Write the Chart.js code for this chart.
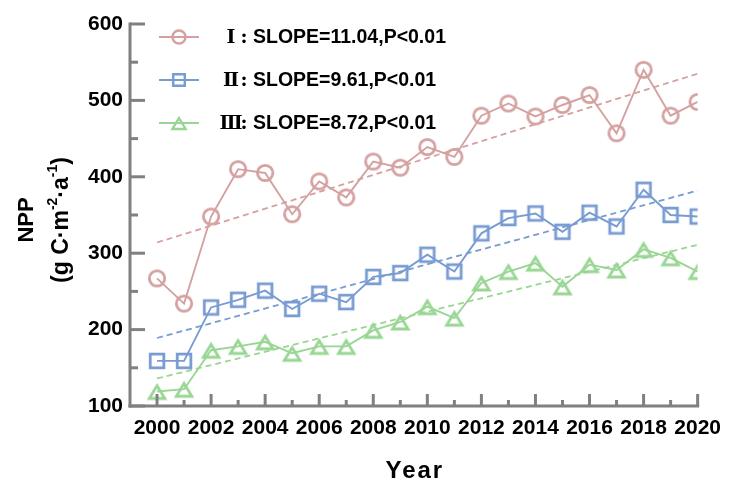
<!DOCTYPE html>
<html>
<head>
<meta charset="utf-8">
<script src="https://cdn.jsdelivr.net/npm/chart.js@4/dist/chart.umd.min.js"></script>
<style>
  html, body { margin: 0; padding: 0; background: #ffffff; }
  #wrap { width: 731px; height: 484px; }
</style>
</head>
<body>
<div id="wrap"><canvas id="c" width="731" height="484"></canvas></div>
<script>
// Annual NPP (g C·m-2·a-1) for three zones, 2000–2020
const years = [2000, 2001, 2002, 2003, 2004, 2005, 2006, 2007, 2008, 2009, 2010,
               2011, 2012, 2013, 2014, 2015, 2016, 2017, 2018, 2019, 2020];
const nppI   = [267, 234, 348, 410, 405, 351, 394, 373, 420, 412, 439,
                426, 480, 496, 479, 494, 507, 457, 540, 480, 498];
const nppII  = [159, 159, 229, 239, 251, 227, 247, 236, 269, 274, 298,
                276, 326, 346, 352, 328, 353, 335, 383, 350, 348];
const nppIII = [119, 122, 173, 178, 184, 169, 178, 178, 199, 210, 230,
                215, 261, 276, 287, 256, 285, 278, 305, 294, 276];

// Linear trend: fitted values at the first and last year
const trendYears = [2000, 2020];
const trendI   = [314, 535];
const trendII  = [189, 382];
const trendIII = [136, 311];

// Legend text
const zoneNames = ['Ⅰ', 'Ⅱ', 'Ⅲ'];
const slopes    = ['11.04', '9.61', '8.72'];
const pTexts    = ['P<0.01', 'P<0.01', 'P<0.01'];

const colors = ['rgb(213,160,160)', 'rgb(120,155,210)', 'rgb(153,214,148)'];
const shapes = ['circle', 'square', 'triangle'];
const SANS = '"Liberation Sans", Arial, sans-serif';

// Hollow marker drawn onto a small canvas so it is centred on the point
function makeMarker(shape, color, s) {
  const size = 26;
  const c = document.createElement('canvas');
  c.width = size; c.height = size;
  const g = c.getContext('2d');
  const m = size / 2;
  g.strokeStyle = color;
  g.lineWidth = 2.8 * s;
  g.lineJoin = 'miter';
  g.beginPath();
  if (shape === 'circle') {
    g.arc(m, m, 7.7 * s, 0, Math.PI * 2);
  } else if (shape === 'square') {
    const h = 6.8 * s;
    g.rect(m - h, m - h, 2 * h, 2 * h);
  } else {
    const w = 7.8 * s, h = 6.4 * s;
    g.moveTo(m, m - h + 0.6 * s);
    g.lineTo(m + w, m + h + 0.6 * s);
    g.lineTo(m - w, m + h + 0.6 * s);
    g.closePath();
  }
  g.stroke();
  return c;
}
const plotMarkers = shapes.map((sh, i) => makeMarker(sh, colors[i], 1));
const legendMarkers = shapes.map((sh, i) => makeMarker(sh, colors[i], 0.85));

function toXY(xs, ys) { return ys.map((v, i) => ({ x: xs[i], y: v })); }

function seriesDataset(values, i) {
  return {
    data: toXY(years, values),
    borderColor: colors[i],
    borderWidth: 1.9,
    pointStyle: plotMarkers[i],
    pointRadius: 10,
    pointBackgroundColor: 'rgba(0,0,0,0)',
    pointBorderColor: colors[i],
    tension: 0,
    order: 1
  };
}
function trendDataset(values, i) {
  return {
    data: toXY(trendYears, values),
    borderColor: colors[i],
    borderWidth: 1.8,
    borderDash: [6, 4],
    pointRadius: 0,
    tension: 0,
    order: 2
  };
}

// Axis lines with inward ticks
const axesPlugin = {
  id: 'axesInward',
  afterDatasetsDraw(chart) {
    const { ctx, chartArea: a, scales: { x, y } } = chart;
    ctx.save();
    ctx.strokeStyle = '#808080';
    ctx.lineWidth = 3;
    ctx.lineCap = 'butt';
    const line = (x1, y1, x2, y2) => { ctx.beginPath(); ctx.moveTo(x1, y1); ctx.lineTo(x2, y2); ctx.stroke(); };
    for (let v = y.min; v <= y.max; v += 50) {
      const py = y.getPixelForValue(v);
      line(a.left, py, a.left + (v % 100 === 0 ? 15 : 8), py);
    }
    for (let yr = years[0]; yr <= x.max; yr++) {
      const px = x.getPixelForValue(yr);
      line(px, a.bottom, px, a.bottom - (yr % 2 === 0 ? 12 : 6));
    }
    ctx.lineCap = 'square';
    line(a.left, a.top, a.left, a.bottom);
    line(a.left, a.bottom, a.right, a.bottom);
    ctx.restore();
  }
};

// Legend, axis titles
const textPlugin = {
  id: 'texts',
  afterDraw(chart) {
    const { ctx, chartArea: a } = chart;
    ctx.save();
    // legend
    const rowY = [a.top + 13, a.top + 56, a.top + 99];
    for (let i = 0; i < 3; i++) {
      const yy = rowY[i];
      const lx = a.left + 29;
      ctx.strokeStyle = colors[i];
      ctx.lineWidth = 1.9;
      ctx.beginPath(); ctx.moveTo(lx, yy); ctx.lineTo(lx + 40, yy); ctx.stroke();
      const mk = legendMarkers[i];
      ctx.drawImage(mk, lx + 20 - mk.width / 2, yy - mk.height / 2);
      ctx.fillStyle = '#000';
      ctx.textBaseline = 'middle';
      ctx.textAlign = 'center';
      ctx.font = 'bold 19px "DejaVu Serif", "Liberation Serif", serif';
      ctx.fillText(zoneNames[i], a.left + 101, yy + 1);
      ctx.fillText(':', a.left + 114, yy + 1);
      ctx.textAlign = 'left';
      ctx.font = 'bold 19.5px ' + SANS;
      ctx.fillText('SLOPE=' + slopes[i] + ',' + pTexts[i], a.left + 123, yy + 1);
    }

    // x title
    ctx.fillStyle = '#000';
    ctx.textAlign = 'center';
    ctx.textBaseline = 'middle';
    ctx.font = 'bold 24px ' + SANS;
    if ('letterSpacing' in ctx) ctx.letterSpacing = '2px';
    ctx.fillText('Year', (a.left + a.right) / 2 + 1, 471);
    if ('letterSpacing' in ctx) ctx.letterSpacing = '0px';

    // y title (rotated)
    const cy = (a.top + a.bottom) / 2 + 5;
    ctx.save();
    ctx.translate(27, cy);
    ctx.rotate(-Math.PI / 2);
    ctx.font = 'bold 22px ' + SANS;
    ctx.fillText('NPP', 0, 0);
    ctx.restore();

    const parts = [
      { t: '(g C·m', size: 23, dy: 0 },
      { t: '-2', size: 14, dy: -9 },
      { t: '·a', size: 23, dy: 0 },
      { t: '-1', size: 14, dy: -9 },
      { t: ')', size: 23, dy: 0 }
    ];
    ctx.save();
    ctx.translate(62, cy);
    ctx.rotate(-Math.PI / 2);
    ctx.textAlign = 'left';
    let total = 0;
    parts.forEach(p => { ctx.font = 'bold ' + p.size + 'px ' + SANS; p.w = ctx.measureText(p.t).width; total += p.w; });
    let px = -total / 2;
    parts.forEach(p => { ctx.font = 'bold ' + p.size + 'px ' + SANS; ctx.fillText(p.t, px, p.dy); px += p.w; });
    ctx.restore();
    ctx.restore();
  }
};

new Chart(document.getElementById('c'), {
  type: 'line',
  data: {
    datasets: [
      trendDataset(trendI, 0), trendDataset(trendII, 1), trendDataset(trendIII, 2),
      seriesDataset(nppI, 0), seriesDataset(nppII, 1), seriesDataset(nppIII, 2)
    ]
  },
  options: {
    responsive: false,
    devicePixelRatio: 1,
    animation: false,
    events: [],
    layout: { padding: { top: 24, right: 25, left: 0, bottom: 0 } },
    plugins: { legend: { display: false }, tooltip: { enabled: false } },
    scales: {
      x: {
        type: 'linear',
        min: 1999,
        max: 2020,
        grid: { display: false, drawTicks: false },
        border: { display: false },
        ticks: {
          stepSize: 1,
          autoSkip: false,
          maxRotation: 0,
          padding: 10,
          color: '#000',
          font: { family: SANS, size: 21, weight: 'bold' },
          callback: v => (v % 2 === 0 ? String(v) : '')
        },
        afterFit: s => { s.height = 78; }
      },
      y: {
        min: 100,
        max: 600,
        grid: { display: false, drawTicks: false },
        border: { display: false },
        ticks: {
          stepSize: 50,
          padding: 7,
          color: '#000',
          font: { family: SANS, size: 21, weight: 'bold' },
          callback: v => (v % 100 === 0 ? String(v) : '')
        },
        afterFit: s => { s.width = 130; }
      }
    }
  },
  plugins: [axesPlugin, textPlugin]
});
</script>
</body>
</html>
